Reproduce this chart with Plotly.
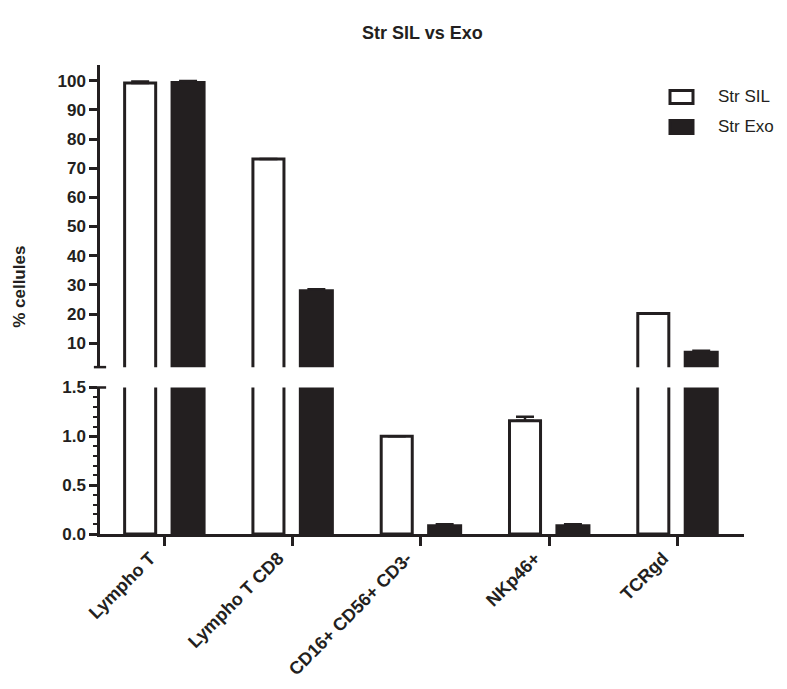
import plotly.graph_objects as go

# ---- data ----
categories = ["Lympho T", "Lympho T CD8", "CD16+ CD56+ CD3-", "NKp46+", "TCRgd"]
series_names = ["Str SIL", "Str Exo"]
sil_values = [99.2, 73.2, 1.0, 1.16, 20.2]
exo_values = [99.9, 28.5, 0.1, 0.1, 7.4]
sil_err = [0.5, 0.0, 0.0, 0.04, 0.0]
exo_err = [0.0, 0.0, 0.0, 0.0, 0.0]
upper_ticks = [10, 20, 30, 40, 50, 60, 70, 80, 90, 100]
lower_ticks = [0.0, 0.5, 1.0, 1.5]
lower_ticktext = ["0.0", "0.5", "1.0", "1.5"]

INK = "#231F20"
FONT = "Liberation Sans, Arial, sans-serif"

LOWER_RANGE = [0, 1.5]
UPPER_RANGE = [1.78, 105.4]

fig = go.Figure()
xidx = list(range(len(categories)))


def masked_err(vals, errs, lo, hi):
    # only draw an error bar where the bar top is inside the segment and error > 0
    return [e if (lo < v < hi and e > 0) else None for v, e in zip(vals, errs)]


def masked_vals(vals, lo):
    # a bar whose top lies below this segment is not drawn in it
    return [v if v > lo else None for v in vals]


def add_pair(xa, ya, rng):
    fig.add_trace(go.Bar(
        x=xidx, y=masked_vals(sil_values, rng[0]), name=series_names[0], xaxis=xa, yaxis=ya,
        width=0.242, offset=-0.308,
        marker=dict(color="white", line=dict(color=INK, width=3)),
        error_y=dict(type="data", symmetric=False,
                     array=masked_err(sil_values, sil_err, *rng),
                     arrayminus=[0] * len(sil_err), color=INK, thickness=2.5, width=9),
        showlegend=False,
    ))
    fig.add_trace(go.Bar(
        x=xidx, y=masked_vals(exo_values, rng[0]), name=series_names[1], xaxis=xa, yaxis=ya,
        width=0.273, offset=0.05,
        marker=dict(color=INK, line=dict(color=INK, width=0)),
        error_y=dict(type="data", symmetric=False,
                     array=masked_err(exo_values, exo_err, *rng),
                     arrayminus=[0] * len(exo_err), color=INK, thickness=2.5, width=9),
        showlegend=False,
    ))


add_pair("x", "y", LOWER_RANGE)
add_pair("x2", "y2", UPPER_RANGE)

lower_top = 0.3124
upper_bottom = 0.3558

fig.update_layout(
    width=787, height=689,
    margin=dict(l=100, r=43, t=65, b=154.7, autoexpand=False),
    paper_bgcolor="white", plot_bgcolor="white",
    barmode="overlay",
    font=dict(family=FONT, color=INK),
    xaxis=dict(
        domain=[0, 1], anchor="y", range=[-0.5, 4.52],
        tickmode="array", tickvals=xidx, ticktext=categories,
        tickangle=-45, ticks="outside", ticklen=9, tickwidth=2.5, tickcolor=INK,
        ticklabelshift=-14, ticklabelstandoff=-5,
        showline=True, linewidth=2.5, linecolor=INK, showgrid=False, zeroline=False,
        tickfont=dict(family=FONT, size=18, color=INK, weight="bold"),
    ),
    xaxis2=dict(domain=[0, 1], anchor="y2", matches="x", range=[-0.5, 4.52],
                visible=False, showgrid=False, zeroline=False),
    yaxis=dict(
        domain=[0, lower_top], anchor="x", range=LOWER_RANGE,
        tickmode="array", tickvals=lower_ticks, ticktext=lower_ticktext,
        ticks="outside", ticklen=8, tickwidth=2.5, tickcolor=INK,
        minor=dict(dtick=0.1, tick0=0, ticks="outside", ticklen=4, tickwidth=2, tickcolor=INK, showgrid=False),
        showline=True, linewidth=2.5, linecolor=INK, showgrid=False, zeroline=False,
        tickfont=dict(family=FONT, size=17, color=INK, weight="bold"),
    ),
    yaxis2=dict(
        domain=[upper_bottom, 1], anchor="x2", range=UPPER_RANGE,
        tickmode="array", tickvals=upper_ticks,
        ticks="outside", ticklen=8, tickwidth=2.5, tickcolor=INK,
        showline=True, linewidth=2.5, linecolor=INK, showgrid=False, zeroline=False,
        tickfont=dict(family=FONT, size=17, color=INK, weight="bold"),
    ),
)

# title
fig.add_annotation(text="<b>Str SIL vs Exo</b>", xref="paper", yref="paper",
                   x=0.5, y=1.0, yshift=32, showarrow=False,
                   font=dict(family=FONT, size=18, color=INK), xanchor="center", yanchor="middle")
# y-axis title
fig.add_annotation(text="<b>% cellules</b>", xref="paper", yref="paper",
                   x=0, xshift=-80, y=0.527, showarrow=False, textangle=-90,
                   font=dict(family=FONT, size=17, color=INK), xanchor="center", yanchor="middle")

# axis break caps
fig.add_shape(type="line", xref="x domain", yref="y2 domain", x0=-0.0095, x1=0.0095, y0=0, y1=0,
              line=dict(color=INK, width=2.5))
fig.add_shape(type="line", xref="x domain", yref="y domain", x0=-0.0095, x1=0.0095, y0=1, y1=1,
              line=dict(color=INK, width=2.5))

# custom legend
leg_items = [(series_names[0], "white", 97), (series_names[1], INK, 127)]
for name, fill, py in leg_items:
    yc = 1 - (py - 65) / 469.3
    fig.add_shape(type="rect", xref="paper", yref="paper",
                  x0=(670 - 100) / 644, x1=(693 - 100) / 644,
                  y0=yc - 6.5 / 469.3, y1=yc + 6.5 / 469.3,
                  fillcolor=fill, line=dict(color=INK, width=3))
    fig.add_annotation(text=name, xref="paper", yref="paper",
                       x=(716 - 100) / 644, y=yc, showarrow=False, xanchor="left", yanchor="middle",
                       font=dict(family=FONT, size=17, color=INK))

fig.write_html("out.html")
